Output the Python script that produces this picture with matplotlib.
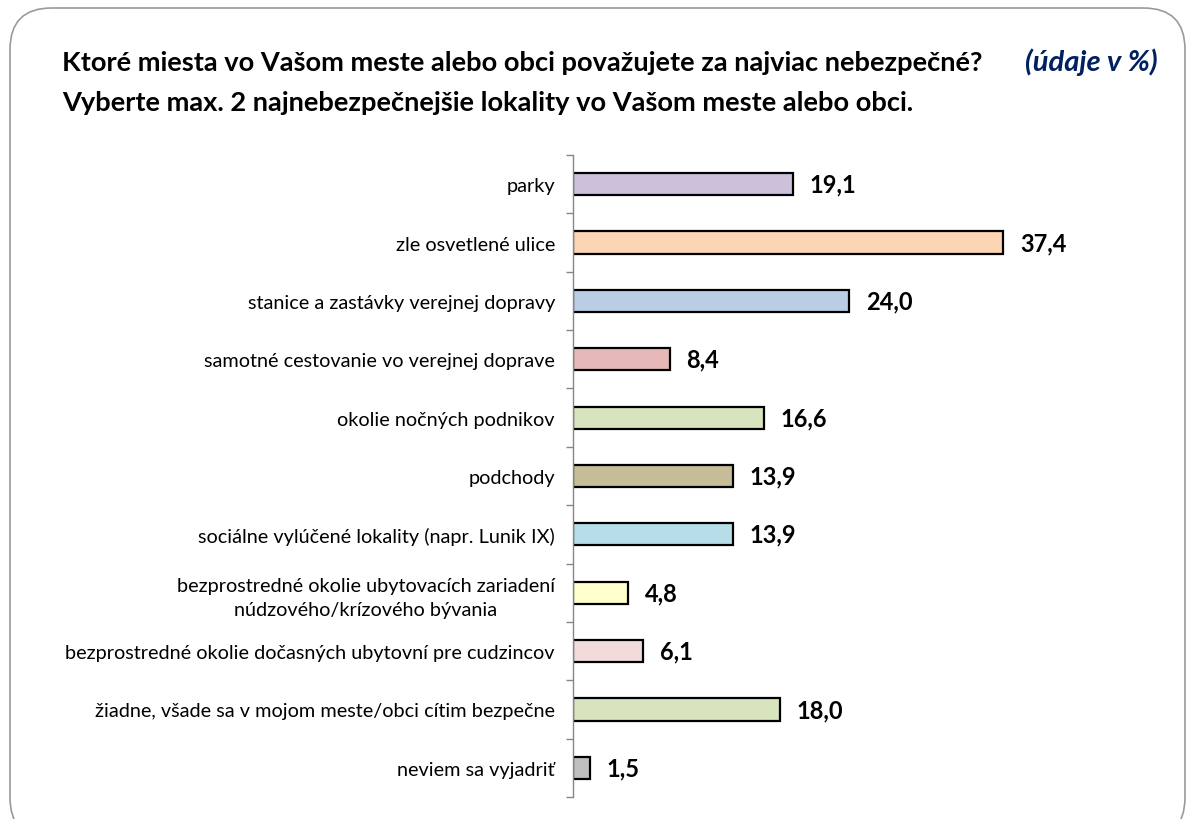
import matplotlib
matplotlib.use("Agg")
import matplotlib.pyplot as plt
from matplotlib.patches import FancyBboxPatch

categories = [
    "parky",
    "zle osvetlené ulice",
    "stanice a zastávky verejnej dopravy",
    "samotné cestovanie vo verejnej doprave",
    "okolie nočných podnikov",
    "podchody",
    "sociálne vylúčené lokality (napr. Lunik IX)",
    "bezprostredné okolie ubytovacích zariadení\nnúdzového/krízového bývania",
    "bezprostredné okolie dočasných ubytovní pre cudzincov",
    "žiadne, všade sa v mojom meste/obci cítim bezpečne",
    "neviem sa vyjadriť",
]
values = [19.1, 37.4, 24.0, 8.4, 16.6, 13.9, 13.9, 4.8, 6.1, 18.0, 1.5]
colors = ["#CCC0DA", "#FCD5B5", "#B9CDE5", "#E6B9B8", "#D7E4BD", "#C4BD97",
          "#B7DEE8", "#FFFFCC", "#F2DCDB", "#D7E4BD", "#BFBFBF"]
title1 = "Ktoré miesta vo Vašom meste alebo obci považujete za najviac nebezpečné?"
title2 = "Vyberte max. 2 najnebezpečnejšie lokality vo Vašom meste alebo obci."
unit_note = "(údaje v %)"

plt.rcParams['font.family'] = ['Lato', 'DejaVu Sans']

W, H = 1187, 820
fig = plt.figure(figsize=(W / 100, H / 100), dpi=100)

# rounded frame
frame = FancyBboxPatch((10 / W, -20 / H), (1175 / W), (831 / H),
                       boxstyle="round,pad=0,rounding_size=0.035",
                       transform=fig.transFigure, fill=False,
                       edgecolor="#9a9a9a", linewidth=1.2, mutation_aspect=W / H)
fig.patches.append(frame)

ax = fig.add_axes([573 / W, 1 - 798 / H, 460 / W, 642 / H])
n = len(categories)
ypos = list(range(n))
ax.barh(ypos, values, height=0.38, color=colors, edgecolor="black", linewidth=1.6)
ax.set_ylim(n - 0.5, -0.5)
ax.set_xlim(0, 40)

for y, v in zip(ypos, values):
    ax.text(v + 1.45, y, f"{v:.1f}".replace(".", ","), va="center", ha="left",
            fontsize=17, fontweight="bold", color="black")

ax.set_yticks(ypos)
ax.set_yticklabels(categories, fontsize=14.3, linespacing=1.5)
for lbl in ax.get_yticklabels():
    lbl.set_multialignment("center")
ax.tick_params(axis="y", which="major", length=0, pad=13)
ax.set_yticks([i - 0.5 for i in range(n + 1)], minor=True)
ax.tick_params(axis="y", which="minor", length=5, color="#868686", width=1)
ax.set_xticks([])
for s in ["top", "right", "bottom"]:
    ax.spines[s].set_visible(False)
ax.spines["left"].set_color("#868686")
ax.spines["left"].set_linewidth(1)

fig.text(62 / W, 1 - 63 / H, title1, fontsize=19.6, fontweight="bold", va="center", ha="left")
fig.text(62 / W, 1 - 103 / H, title2, fontsize=19.6, fontweight="bold", va="center", ha="left")
fig.text(1158 / W, 1 - 62 / H, unit_note, fontsize=21, fontweight="bold", style="italic",
         color="#002060", va="center", ha="right")

fig.savefig("out.png", dpi=100)
